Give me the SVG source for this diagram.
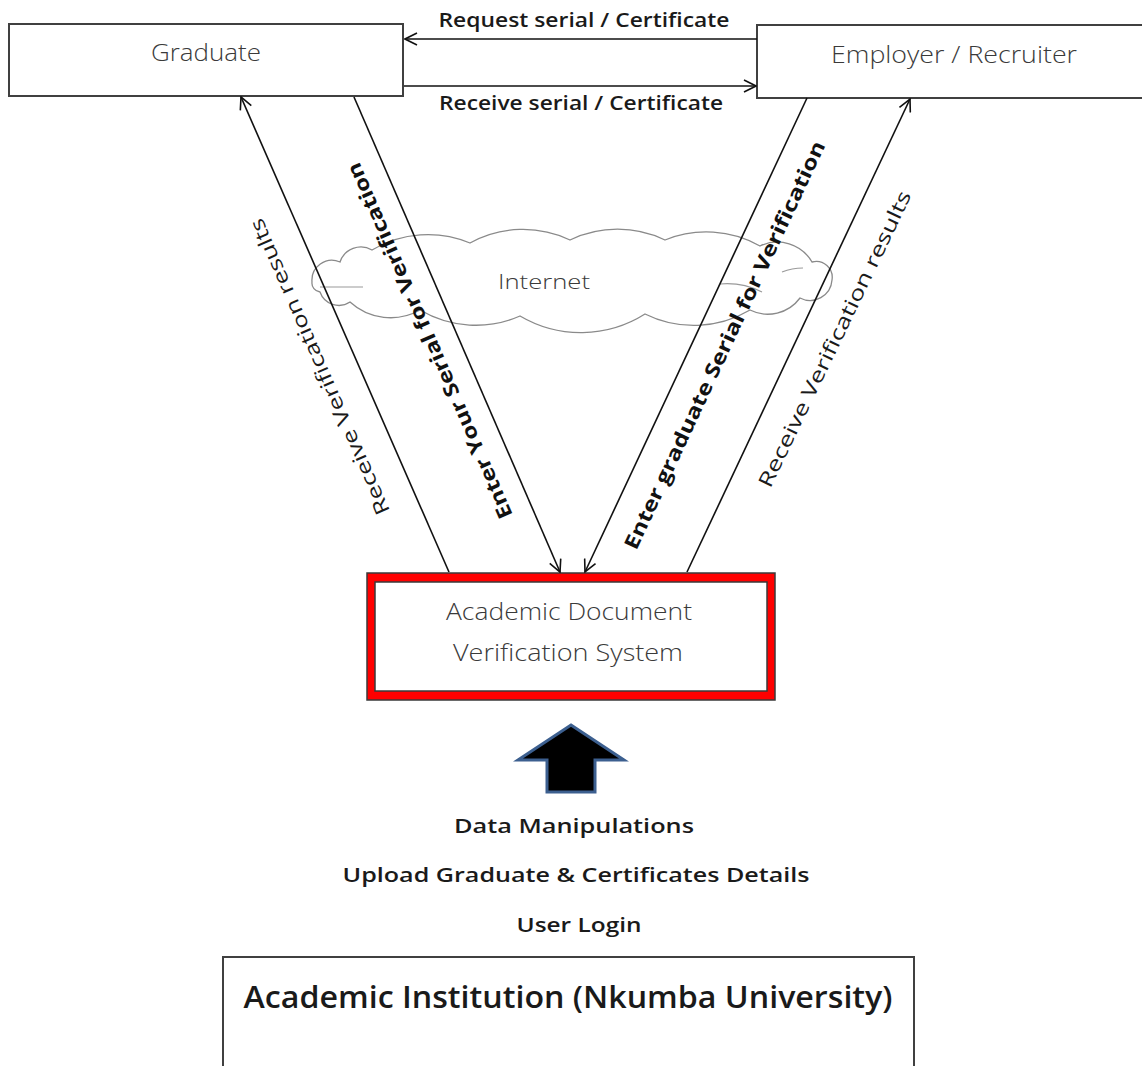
<svg xmlns="http://www.w3.org/2000/svg" width="1142" height="1066" viewBox="0 0 1142 1066">
  <defs>
    <marker id="open-head" viewBox="0 0 14 14" markerUnits="userSpaceOnUse" markerWidth="14" markerHeight="14" refX="13" refY="7" orient="auto">
      <path d="M1,1 L13,7 L1,13" fill="none" stroke="#111" stroke-width="1.6" stroke-linejoin="miter"/>
    </marker>
  </defs>
  <style>
    text { font-family: "Open Sans", "Noto Sans", "Liberation Sans", sans-serif; }
    .box { fill: #fff; stroke: #404040; stroke-width: 2; }
    .light { font-weight: 300; fill: #3a3a3a; }
    .label { font-weight: 600; fill: #1a1a1a; }
    .rot { font-size: 20px; }
    .link { fill: none; stroke: #111; stroke-width: 1.6; marker-end: url(#open-head); }
    .plain { fill: none; stroke: #111; stroke-width: 1.6; }
  </style>

  <rect width="1142" height="1066" fill="#fff"/>

  <!-- Internet cloud (drawn underneath the connectors) -->
  <g id="cloud">
    <path d="M312,282 A20,20 0 0 1 340,262 A22,22 0 0 1 372,250 A110,110 0 0 1 470,243 A110,110 0 0 1 570,240 A110,110 0 0 1 665,240 A110,110 0 0 1 760,246 A40,40 0 0 1 812,262 A16,16 0 0 1 832,280 A22,22 0 0 1 800,298 A40,40 0 0 1 750,310 A110,110 0 0 1 645,314 A120,120 0 0 1 520,316 A110,110 0 0 1 420,310 A60,60 0 0 1 350,302 A20,20 0 0 1 320,292 A9,9 0 0 1 312,282 Z" fill="#fff" stroke="#8a8a8a" stroke-width="1.3"/>
    <path d="M320,287 L363,287" fill="none" stroke="#9a9a9a" stroke-width="1.2"/>
    <path d="M782,272 Q792,268 803,268" fill="none" stroke="#9a9a9a" stroke-width="1.2"/>
    <path d="M720,284 Q742,282 762,292" fill="none" stroke="#9a9a9a" stroke-width="1.2"/>
    <text x="544" y="289" font-size="21" text-anchor="middle" class="light" textLength="92" lengthAdjust="spacingAndGlyphs">Internet</text>
  </g>

  <!-- Graduate -->
  <g id="graduate">
    <rect class="box" x="9" y="24" width="394" height="72"/>
    <text x="206" y="61" font-size="23" text-anchor="middle" class="light" textLength="110" lengthAdjust="spacingAndGlyphs">Graduate</text>
  </g>

  <!-- Employer / Recruiter (runs off the right edge) -->
  <g id="employer">
    <rect class="box" x="757" y="25" width="400" height="73"/>
    <text x="954" y="63" font-size="23" text-anchor="middle" class="light" textLength="246" lengthAdjust="spacingAndGlyphs">Employer / Recruiter</text>
  </g>

  <!-- Academic Document Verification System -->
  <g id="advs">
    <rect x="367" y="573" width="408" height="127" fill="#ff0000" stroke="#3a3a3a" stroke-width="1.5"/>
    <rect x="375" y="582" width="392" height="109" fill="#fff" stroke="#3a3a3a" stroke-width="1.5"/>
    <text x="569" y="620" font-size="23" text-anchor="middle" class="light" textLength="246" lengthAdjust="spacingAndGlyphs">Academic Document</text>
    <text x="568" y="661" font-size="23" text-anchor="middle" class="light" textLength="230" lengthAdjust="spacingAndGlyphs">Verification System</text>
  </g>

  <!-- Upward block arrow -->
  <g id="upload-arrow">
    <polygon points="571,725 624,760 595,760 595,792 547,792 547,760 518,760" fill="#000" stroke="#3c5f8f" stroke-width="3" stroke-linejoin="miter"/>
  </g>

  <!-- Institution tasks -->
  <g id="tasks">
    <text x="574" y="833" font-size="20" text-anchor="middle" class="label" textLength="240" lengthAdjust="spacingAndGlyphs">Data Manipulations</text>
    <text x="576" y="882" font-size="20" text-anchor="middle" class="label" textLength="467" lengthAdjust="spacingAndGlyphs">Upload Graduate &amp; Certificates Details</text>
    <text x="579" y="932" font-size="20" text-anchor="middle" class="label" textLength="125" lengthAdjust="spacingAndGlyphs">User Login</text>
  </g>

  <!-- Academic Institution (runs off the bottom edge) -->
  <g id="institution">
    <rect class="box" x="223" y="957" width="691" height="130"/>
    <text x="568" y="1008" font-size="30" text-anchor="middle" class="label" textLength="649" lengthAdjust="spacingAndGlyphs">Academic Institution (Nkumba University)</text>
  </g>

  <!-- Connectors -->
  <g id="connectors">
    <line class="link" x1="757" y1="39" x2="405" y2="39"/>
    <line class="link" x1="404" y1="86" x2="756" y2="86"/>
    <line class="link" x1="449" y1="572" x2="241" y2="97"/>
    <line class="link" x1="354" y1="97" x2="560" y2="572"/>
    <line class="link" x1="807" y1="98" x2="585" y2="572"/>
    <line class="link" x1="687" y1="572" x2="910" y2="99"/>

    <text x="584" y="27" font-size="19" text-anchor="middle" class="label" textLength="291" lengthAdjust="spacingAndGlyphs">Request serial / Certificate</text>
    <text x="581" y="110" font-size="19" text-anchor="middle" class="label" textLength="284" lengthAdjust="spacingAndGlyphs">Receive serial / Certificate</text>

    <text transform="translate(326,364) rotate(-113.6)" text-anchor="middle" class="rot" fill="#1a1a1a" textLength="321" lengthAdjust="spacingAndGlyphs">Receive Verification results</text>
    <text transform="translate(436,338) rotate(-113.5)" text-anchor="middle" class="rot" font-weight="700" fill="#111" textLength="386" lengthAdjust="spacingAndGlyphs">Enter Your Serial for Verification</text>
    <text transform="translate(731,348) rotate(-65)" text-anchor="middle" class="rot" font-weight="700" fill="#111" textLength="448" lengthAdjust="spacingAndGlyphs">Enter graduate Serial for Verification</text>
    <text transform="translate(841,342) rotate(-64.3)" text-anchor="middle" class="rot" fill="#1a1a1a" textLength="326" lengthAdjust="spacingAndGlyphs">Receive Verification results</text>
  </g>
</svg>
